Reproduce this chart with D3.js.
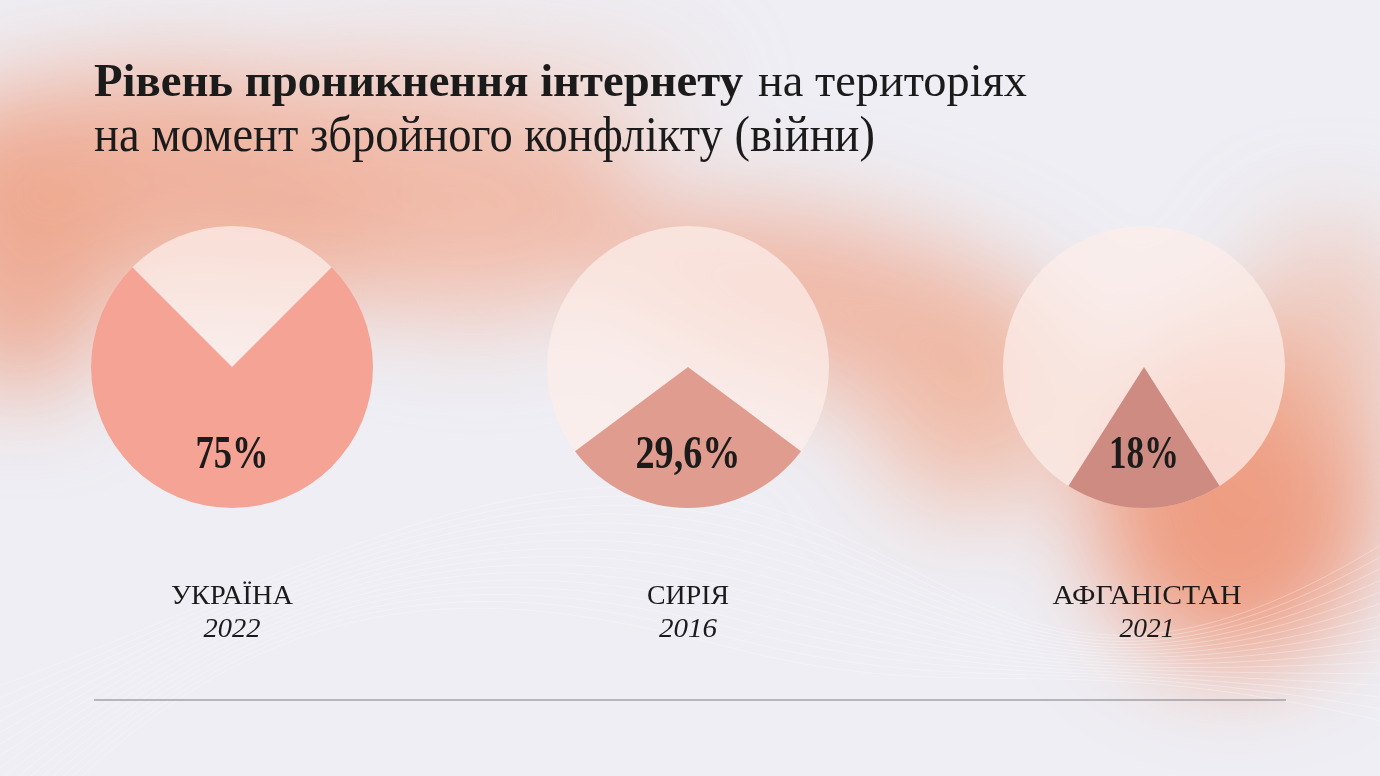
<!DOCTYPE html>
<html>
<head>
<meta charset="utf-8">
<script src="https://cdn.jsdelivr.net/npm/d3@7"></script>
<style>
  html, body { margin: 0; padding: 0; background: #EEEEF4; overflow: hidden; }
  svg { display: block; }
  text { font-family: "Liberation Serif", "Times New Roman", serif; fill: #1b1b1b; }
</style>
</head>
<body>
<script>
// ---- data ----
const countries = ["УКРАЇНА", "СИРІЯ", "АФГАНІСТАН"];
const years = ["2022", "2016", "2021"];
const values = [75, 29.6, 18];
const valueLabels = ["75%", "29,6%", "18%"];
const titleBold = "Рівень проникнення інтернету";
const titleRegular = "на територіях";
const titleLine2 = "на момент збройного конфлікту (війни)";

// ---- styles / layout ----
const W = 1380, H = 776;
const wedgeColors = ["#F4A395", "#E09C8E", "#CE8B82"];
const R = 141, CY = 367;
const valueWidths = [73, 105, 70];
const countryWidths = [122, 82, 189];
const yearWidths = [57, 58, 55];

const svg = d3.select("body").append("svg").attr("width", W).attr("height", H);
const defs = svg.append("defs");
const f = defs.append("filter").attr("id", "blur")
  .attr("x", "-60%").attr("y", "-60%").attr("width", "220%").attr("height", "220%");
f.append("feGaussianBlur").attr("stdDeviation", 48);

// background
svg.append("rect").attr("width", W).attr("height", H).attr("fill", "#EEEEF4");
const blobs = [
  {cx: 270, cy: 185, rx: 370, ry: 115, rot: 4, c: "#EFAF99", o: 0.95},
  {cx: 20, cy: 265, rx: 100, ry: 130, rot: 0, c: "#EDA48B", o: 0.85},
  {cx: 470, cy: 95, rx: 230, ry: 55, rot: 0, c: "#F2CCBF", o: 0.6},
  {cx: 480, cy: 255, rx: 120, ry: 70, rot: 0, c: "#F1C2B1", o: 0.8},
  {cx: 840, cy: 305, rx: 250, ry: 85, rot: 14, c: "#F0B39E", o: 0.9},
  {cx: 970, cy: 410, rx: 100, ry: 100, rot: 0, c: "#F0B8A3", o: 0.85},
  {cx: 1235, cy: 495, rx: 145, ry: 170, rot: 0, c: "#EE9D82", o: 1},
  {cx: 1330, cy: 340, rx: 90, ry: 120, rot: 0, c: "#F0BBA8", o: 0.65}
];
const bg = svg.append("g").attr("filter", "url(#blur)");
bg.selectAll("ellipse").data(blobs).join("ellipse")
  .attr("cx", d => d.cx).attr("cy", d => d.cy)
  .attr("rx", d => d.rx).attr("ry", d => d.ry)
  .attr("transform", d => `rotate(${d.rot},${d.cx},${d.cy})`)
  .attr("fill", d => d.c).attr("opacity", d => d.o);

// faint white wave lines
const waves = d3.range(16);
svg.append("g")
  .selectAll("path").data(waves).join("path")
  .attr("d", i => `M -40,${700 + i * 14} C 250,${600 - i * 4} 500,${440 + i * 10} 740,${500 + i * 10} S 1060,${760 - i * 8} 1420,${520 + i * 14}`)
  .attr("fill", "none").attr("stroke", "#ffffff").attr("stroke-width", 0.9).attr("opacity", 0.35);

// ---- title ----
svg.append("text").attr("x", 94).attr("y", 96)
  .attr("font-size", 46).attr("font-weight", 700)
  .attr("textLength", 649).attr("lengthAdjust", "spacingAndGlyphs")
  .text(titleBold);
svg.append("text").attr("x", 758).attr("y", 96)
  .attr("font-size", 46)
  .attr("textLength", 269).attr("lengthAdjust", "spacingAndGlyphs")
  .text(titleRegular);
svg.append("text").attr("x", 94).attr("y", 151)
  .attr("font-size", 51)
  .attr("textLength", 781).attr("lengthAdjust", "spacingAndGlyphs")
  .text(titleLine2);

// ---- pies ----
const x = d3.scalePoint().domain(countries).range([232, 1144]);
const angle = d3.scaleLinear().domain([0, 100]).range([0, 2 * Math.PI]);
const arc = d3.arc().innerRadius(0).outerRadius(R);

const rows = countries.map((c, i) => ({c, y: years[i], v: values[i], label: valueLabels[i], i}));
const g = svg.selectAll("g.pie").data(rows).join("g").attr("class", "pie")
  .attr("transform", d => `translate(${x(d.c)},${CY})`);
g.append("circle").attr("r", R).attr("fill", "#FCEEEA").attr("opacity", 0.74);
g.append("path")
  .attr("d", d => arc({startAngle: Math.PI - angle(d.v) / 2, endAngle: Math.PI + angle(d.v) / 2}))
  .attr("fill", d => wedgeColors[d.i]);
g.append("text").attr("text-anchor", "middle").attr("y", 468 - CY)
  .attr("font-size", 46).attr("font-weight", 700)
  .attr("textLength", d => valueWidths[d.i]).attr("lengthAdjust", "spacingAndGlyphs")
  .text(d => d.label);

// ---- labels ----
const lab = svg.selectAll("g.lab").data(rows).join("g").attr("class", "lab")
  .attr("transform", d => `translate(${x(d.c) + (d.i === 2 ? 3 : 0)},0)`);
lab.append("text").attr("text-anchor", "middle").attr("y", 604)
  .attr("font-size", 28)
  .attr("textLength", d => countryWidths[d.i]).attr("lengthAdjust", "spacingAndGlyphs")
  .text(d => d.c);
lab.append("text").attr("text-anchor", "middle").attr("y", 637)
  .attr("font-size", 28).attr("font-style", "italic")
  .attr("textLength", d => yearWidths[d.i]).attr("lengthAdjust", "spacingAndGlyphs")
  .text(d => d.y);

// ---- rule ----
svg.append("line").attr("x1", 94).attr("x2", 1286).attr("y1", 700).attr("y2", 700)
  .attr("stroke", "#7d7d82").attr("stroke-width", 1.2);
</script>
</body>
</html>
